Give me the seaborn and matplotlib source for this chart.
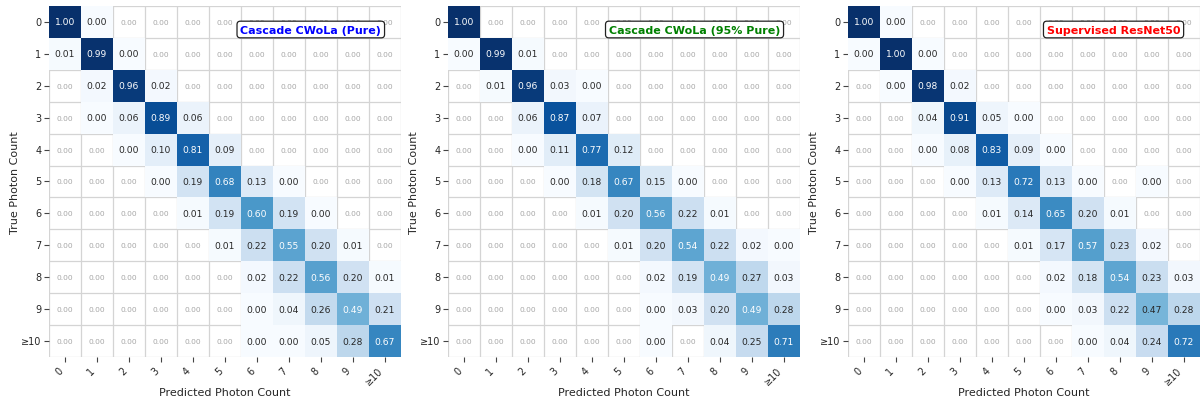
import numpy as np
import pandas as pd
import matplotlib
matplotlib.use("Agg")
import matplotlib.pyplot as plt
import seaborn as sns

# Photon-count classes (true rows, predicted columns)
classes = ["0", "1", "2", "3", "4", "5", "6", "7", "8", "9", "≥10"]

# Small non-zero fractions that still print as 0.00
tiny = 0.002

# Row-normalised confusion matrices
cwola_pure = [
    [1.00, tiny, 0, 0, 0, 0, 0, 0, 0, 0, 0],
    [0.01, 0.99, tiny, 0, 0, 0, 0, 0, 0, 0, 0],
    [0, 0.02, 0.96, 0.02, 0, 0, 0, 0, 0, 0, 0],
    [0, tiny, 0.06, 0.89, 0.06, 0, 0, 0, 0, 0, 0],
    [0, 0, tiny, 0.10, 0.81, 0.09, 0, 0, 0, 0, 0],
    [0, 0, 0, tiny, 0.19, 0.68, 0.13, tiny, 0, 0, 0],
    [0, 0, 0, 0, 0.01, 0.19, 0.60, 0.19, tiny, 0, 0],
    [0, 0, 0, 0, 0, 0.01, 0.22, 0.55, 0.20, 0.01, 0],
    [0, 0, 0, 0, 0, 0, 0.02, 0.22, 0.56, 0.20, 0.01],
    [0, 0, 0, 0, 0, 0, tiny, 0.04, 0.26, 0.49, 0.21],
    [0, 0, 0, 0, 0, 0, tiny, tiny, 0.05, 0.28, 0.67],
]

cwola_95 = [
    [1.00, 0, 0, 0, 0, 0, 0, 0, 0, 0, 0],
    [tiny, 0.99, 0.01, 0, 0, 0, 0, 0, 0, 0, 0],
    [0, 0.01, 0.96, 0.03, tiny, 0, 0, 0, 0, 0, 0],
    [0, 0, 0.06, 0.87, 0.07, 0, 0, 0, 0, 0, 0],
    [0, 0, tiny, 0.11, 0.77, 0.12, 0, 0, 0, 0, 0],
    [0, 0, 0, tiny, 0.18, 0.67, 0.15, tiny, 0, 0, 0],
    [0, 0, 0, 0, 0.01, 0.20, 0.56, 0.22, 0.01, 0, 0],
    [0, 0, 0, 0, 0, 0.01, 0.20, 0.54, 0.22, 0.02, tiny],
    [0, 0, 0, 0, 0, 0, 0.02, 0.19, 0.49, 0.27, 0.03],
    [0, 0, 0, 0, 0, 0, tiny, 0.03, 0.20, 0.49, 0.28],
    [0, 0, 0, 0, 0, 0, tiny, 0, 0.04, 0.25, 0.71],
]

resnet50 = [
    [1.00, tiny, 0, 0, 0, 0, 0, 0, 0, 0, 0],
    [tiny, 1.00, tiny, 0, 0, 0, 0, 0, 0, 0, 0],
    [0, tiny, 0.98, 0.02, 0, 0, 0, 0, 0, 0, 0],
    [0, 0, 0.04, 0.91, 0.05, tiny, 0, 0, 0, 0, 0],
    [0, 0, tiny, 0.08, 0.83, 0.09, tiny, 0, 0, 0, 0],
    [0, 0, 0, tiny, 0.13, 0.72, 0.13, tiny, 0, tiny, 0],
    [0, 0, 0, 0, 0.01, 0.14, 0.65, 0.20, 0.01, 0, 0],
    [0, 0, 0, 0, 0, 0.01, 0.17, 0.57, 0.23, 0.02, 0],
    [0, 0, 0, 0, 0, 0, 0.02, 0.18, 0.54, 0.23, 0.03],
    [0, 0, 0, 0, 0, 0, tiny, 0.03, 0.22, 0.47, 0.28],
    [0, 0, 0, 0, 0, 0, 0, tiny, 0.04, 0.24, 0.72],
]

titles = ["Cascade CWoLa (Pure)", "Cascade CWoLa (95% Pure)", "Supervised ResNet50"]
title_colors = ["blue", "green", "red"]
matrices = [cwola_pure, cwola_95, resnet50]

sns.set_theme(style="white")
plt.rcParams["font.family"] = ["DejaVu Sans"]

fig = plt.figure(figsize=(12, 4.02), dpi=100)
lefts = [0.0408, 0.3733, 0.7067]
width, bottom, height = 0.2930, 0.1095, 0.8731

for left, mat, title, tcolor in zip(lefts, matrices, titles, title_colors):
    ax = fig.add_axes([left, bottom, width, height])
    df = pd.DataFrame(mat, index=classes, columns=classes)
    zero = df.values == 0

    sns.heatmap(df, ax=ax, mask=zero, cmap="Blues", vmin=0, vmax=1,
                annot=True, fmt=".2f", cbar=False,
                annot_kws={"fontsize": 6.6})

    # exact zeros: faint labels on the empty cells
    for i, j in zip(*np.nonzero(zero)):
        ax.text(j + 0.5, i + 0.5, f"{df.values[i, j]:.2f}", ha="center",
                va="center", fontsize=5.4, color="#a6a6a6")

    # light cell grid behind the colour mesh
    ax.set_xticks(np.arange(len(classes) + 1), minor=True)
    ax.set_yticks(np.arange(len(classes) + 1), minor=True)
    ax.grid(which="minor", color="#d4d4d4", linewidth=0.9)
    ax.grid(which="major", visible=False)
    ax.set_axisbelow(True)
    ax.tick_params(which="minor", length=0)
    ax.tick_params(which="major", length=3.5, width=0.8, color="#444444",
                   bottom=True, left=True, labelsize=7, pad=2,
                   labelcolor="#262626")

    ax.set_xticklabels(classes, rotation=45, ha="right")
    ax.set_yticklabels(classes, rotation=0)
    ax.set_xlabel("Predicted Photon Count", fontsize=8, color="#262626",
                  labelpad=1)
    ax.set_ylabel("True Photon Count", fontsize=8, color="#262626",
                  labelpad=1)

    ax.text(0.945, 0.933, title, transform=ax.transAxes, ha="right",
            va="center", fontsize=8, fontweight="bold", color=tcolor,
            bbox=dict(boxstyle="round,pad=0.3", fc="white", ec="#222222",
                      lw=0.9), zorder=10)

fig.savefig("out.png", dpi=100)
